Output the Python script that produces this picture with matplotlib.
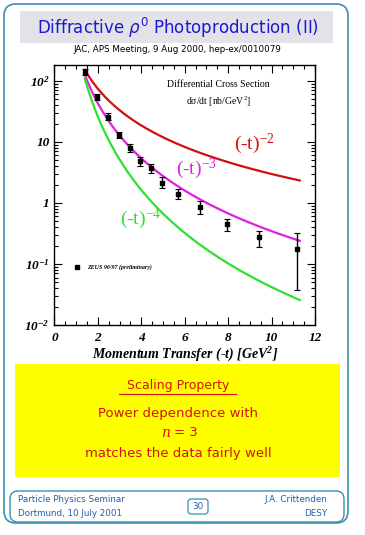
import numpy as np
import matplotlib
matplotlib.use('Agg')
import matplotlib.pyplot as plt
from matplotlib.patches import FancyBboxPatch, Rectangle
from matplotlib.ticker import MultipleLocator, LogLocator, NullFormatter, FixedLocator, FixedFormatter

# ZEUS 96/97 data
t_vals = [1.43, 1.94, 2.45, 2.97, 3.46, 3.95, 4.44, 4.94, 5.69, 6.69, 7.93, 9.43, 11.16]
xsec = [138, 54, 26, 12.9, 7.9, 4.8, 3.7, 2.15, 1.41, 0.87, 0.45, 0.275, 0.178]
err_lo = [15, 6, 3, 1.5, 1.0, 0.7, 0.6, 0.4, 0.25, 0.2, 0.1, 0.085, 0.14]
err_hi = [20, 7, 3.5, 1.8, 1.2, 0.9, 0.7, 0.5, 0.3, 0.2, 0.1, 0.075, 0.14]

# power law curves A * (-t)^-n
powers = [2, 3, 4]
norms = [298, 345, 418]
curve_colors = ['#d01010', '#e020e0', '#30e030']
t_curve = np.linspace(1.4, 11.3, 200)

y_ticks = [0.01, 0.1, 1, 10, 100]
y_ticklabels = [r'$10^{-2}$', r'$10^{-1}$', '1', '10', r'$10^{2}$']

plt.rcParams['font.family'] = 'serif'
plt.rcParams['font.serif'] = ['Liberation Serif', 'DejaVu Serif']
plt.rcParams['mathtext.default'] = 'regular'

fig = plt.figure(figsize=(3.65, 5.35), dpi=100)

# background layer in pixel coordinates for the slide decorations
bg = fig.add_axes([0, 0, 1, 1])
bg.set_xlim(0, 365)
bg.set_ylim(535, 0)
bg.axis('off')

border = '#3890b0'
bg.add_patch(FancyBboxPatch((4, 4), 344, 519, boxstyle='round,pad=0,rounding_size=12',
                            fc='white', ec=border, lw=1.2))
bg.add_patch(Rectangle((20, 11), 313, 32, fc='#e2e2e8', ec='none'))
bg.text(178, 28, r'Diffractive $\mathit{\rho}^0$ Photoproduction (II)', color='#1a1ad0',
        ha='center', va='center', fontsize=12, family='DejaVu Sans')
bg.text(177, 49, 'JAC, APS Meeting, 9 Aug 2000, hep-ex/0010079', ha='center', va='center',
        fontsize=6.3, family='DejaVu Sans')

# yellow summary box
bg.add_patch(Rectangle((15, 364), 325, 113, fc='#ffff00', ec='none'))
red = '#d81010'
tkw = dict(color=red, ha='center', va='center', family='DejaVu Sans')
bg.text(178, 386, 'Scaling Property', fontsize=9, **tkw)
bg.plot([119, 236], [393.5, 393.5], color=red, lw=0.8)
bg.text(178, 413, 'Power dependence with', fontsize=9.5, **tkw)
bg.text(165, 433, 'n', fontsize=10, color=red, ha='center', va='center',
        family='DejaVu Serif', style='italic')
bg.text(186, 433, '= 3', fontsize=9.5, **tkw)
bg.text(178, 453, 'matches the data fairly well', fontsize=9.5, **tkw)

# footer
bg.add_patch(FancyBboxPatch((10, 491), 334, 31, boxstyle='round,pad=0,rounding_size=8',
                            fc='none', ec=border, lw=1.0))
foot = '#2060a8'
fkw = dict(color=foot, fontsize=6.3, family='DejaVu Sans', va='center')
bg.text(18, 500, 'Particle Physics Seminar', ha='left', **fkw)
bg.text(18, 514, 'Dortmund, 10 July 2001', ha='left', **fkw)
bg.text(327, 500, 'J.A. Crittenden', ha='right', **fkw)
bg.text(327, 514, 'DESY', ha='right', **fkw)
bg.add_patch(FancyBboxPatch((188, 499), 20, 15, boxstyle='round,pad=0,rounding_size=3',
                            fc='none', ec=border, lw=0.9))
bg.text(198, 506.5, '30', ha='center', **fkw)

# the plot
ax = fig.add_axes([0.149, 0.3925, 0.714, 0.486])
for n, a, c in zip(powers, norms, curve_colors):
    ax.plot(t_curve, a * t_curve ** (-float(n)), color=c, lw=1.6)

ax.errorbar(t_vals, xsec, yerr=[err_lo, err_hi], fmt='s', color='black', ms=2.5,
            elinewidth=1.0, capsize=2, capthick=0.8)

ax.set_yscale('log')
ax.set_xlim(0, 12)
ax.set_ylim(0.01, 182)
ax.xaxis.set_major_locator(MultipleLocator(2))
ax.xaxis.set_minor_locator(MultipleLocator(0.5))
ax.yaxis.set_major_locator(FixedLocator(y_ticks))
ax.yaxis.set_major_formatter(FixedFormatter(y_ticklabels))
ax.yaxis.set_minor_locator(LogLocator(base=10, subs=np.arange(2, 10), numticks=20))
ax.yaxis.set_minor_formatter(NullFormatter())
ax.tick_params(which='both', direction='in', top=True, right=True, labelsize=9.5, width=0.8)
ax.tick_params(which='major', length=6)
ax.tick_params(which='minor', length=3)
ax.tick_params(axis='x', pad=5)
for sp in ax.spines.values():
    sp.set_linewidth(1.0)
for lbl in ax.get_xticklabels() + ax.get_yticklabels():
    lbl.set_fontweight('bold')
    lbl.set_fontstyle('italic')

ax.set_xlabel(r'Momentum Transfer (-t) [GeV$^2$]', fontsize=10, labelpad=1,
              fontweight='bold', fontstyle='italic')

pkw = dict(family='Liberation Serif')
ax.text(0.63, 0.925, 'Differential Cross Section', transform=ax.transAxes, ha='center',
        va='center', fontsize=7, **pkw)
ax.text(0.63, 0.86, r'd$\sigma$/dt [nb/GeV$^2$]', transform=ax.transAxes, ha='center',
        va='center', fontsize=7, **pkw)
ax.text(0.69, 0.695, r'(-t)$^{-2}$', transform=ax.transAxes, color=curve_colors[0],
        fontsize=14, ha='left', va='center', **pkw)
ax.text(0.465, 0.6, r'(-t)$^{-3}$', transform=ax.transAxes, color=curve_colors[1],
        fontsize=14, ha='left', va='center', **pkw)
ax.text(0.25, 0.41, r'(-t)$^{-4}$', transform=ax.transAxes, color=curve_colors[2],
        fontsize=14, ha='left', va='center', **pkw)

ax.plot([1.05], [0.09], 's', color='black', ms=2.5)
ax.text(1.5, 0.09, 'ZEUS 96/97 (preliminary)', fontsize=4.3, va='center', ha='left',
        fontweight='bold', fontstyle='italic')

fig.savefig('out.png', dpi=100)
